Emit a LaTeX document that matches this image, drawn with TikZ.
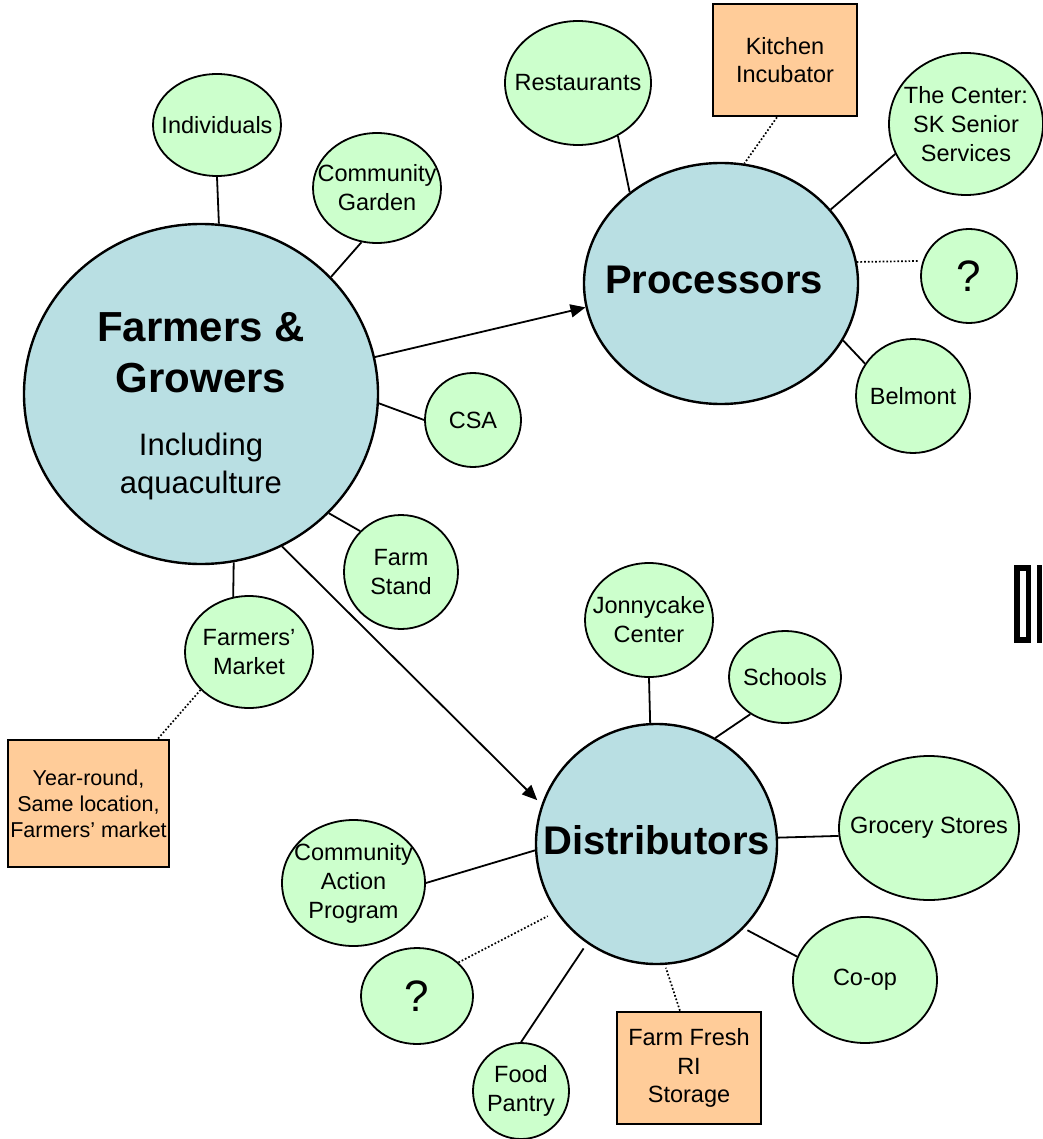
\documentclass[tikz,border=0pt]{standalone}
\usepackage{fontspec}
\setmainfont{Liberation Sans}
\usepackage{tikz}
\usetikzlibrary{shapes,arrows,arrows.meta}
\usepackage{color}

\definecolor{hubblue}{HTML}{B9DFE3}
\definecolor{leafgreen}{HTML}{CCFFCC}
\definecolor{boxorange}{HTML}{FFCC99}

\begin{document}
\begin{tikzpicture}[x=1pt, y=-1pt,
    hub/.style={ellipse, draw, line width=2.4pt, fill=hubblue, inner sep=-40pt,
      font=\bfseries\fontsize{40}{48}\selectfont},
    leaf/.style={ellipse, draw, line width=1.8pt, fill=leafgreen, inner sep=-20pt,
      align=center, font=\fontsize{23.5}{29}\selectfont},
    note/.style={rectangle, draw, line width=2.6pt, fill=boxorange, inner sep=0pt,
      align=center, font=\fontsize{23.5}{28.5}\selectfont},
    link/.style={line width=1.8pt},
    maybe/.style={line width=1.7pt, dotted},
    flow/.style={line width=1.8pt, -{Triangle[length=15pt, width=13pt]}}]
    \useasboundingbox (0,0) rectangle (1042,1139);

    % hubs
    \node[hub, minimum width=354pt, minimum height=340pt] (fg) at (201,394) {};
    \node[hub, minimum width=274pt, minimum height=241pt] (proc) at (721,283.5)
      {Processors\hspace*{14pt}\rule[-7pt]{0pt}{0pt}};
    \node[hub, minimum width=241pt, minimum height=240pt] (dist) at (656.5,844)
      {Distributors\rule[-8pt]{0pt}{0pt}};

    % around the farmers
    \node[leaf, minimum width=128pt, minimum height=102pt] (ind) at (217,125) {Individuals};
    \node[leaf, minimum width=128pt, minimum height=110pt] (cg) at (377,188) {Community\\Garden};
    \node[leaf, minimum width=96pt, minimum height=94pt] (csa) at (473,420) {CSA};
    \node[leaf, minimum width=114pt, minimum height=114pt] (fs) at (401,572) {Farm\\Stand};
    \node[leaf, minimum width=128pt, minimum height=112pt] (fm) at (249,652) {Farmers’\\Market};
    \node[note, font=\fontsize{21.5}{26}\selectfont, minimum width=161pt, minimum height=127pt]
      (yr) at (88.5,803.5) {Year-round,\\Same location,\\Farmers’ market};

    % around the processors
    \node[leaf, minimum width=146pt, minimum height=124pt] (rest) at (578,83) {Restaurants};
    \node[note, minimum width=144pt, minimum height=112pt] (kit) at (785,60) {Kitchen\\Incubator};
    \node[leaf, minimum width=154pt, minimum height=142pt] (ctr) at (966,124) {The Center:\\SK Senior\\Services};
    \node[leaf, font=\fontsize{44}{50}\selectfont, minimum width=96pt, minimum height=94pt]
      (procq) at (969,276) {?};
    \node[leaf, minimum width=114pt, minimum height=114pt] (bel) at (913,396) {Belmont};

    % around the distributors
    \node[leaf, minimum width=128pt, minimum height=114pt] (jc) at (649,620) {Jonnycake\\Center};
    \node[leaf, minimum width=112pt, minimum height=92pt] (sch) at (785,677) {Schools};
    \node[leaf, minimum width=180pt, minimum height=144pt] (gro) at (929,828) {Grocery Stores};
    \node[leaf, minimum width=144pt, minimum height=126pt] (coop) at (865,980) {Co-op};
    \node[leaf, minimum width=143pt, minimum height=126pt] (cap) at (353.5,883) {Community\\Action\\Program};
    \node[leaf, font=\fontsize{44}{50}\selectfont, minimum width=112pt, minimum height=96pt]
      (distq) at (417,996) {?};
    \node[leaf, minimum width=96pt, minimum height=96pt] (fp) at (521,1091) {Food\\Pantry};
    \node[note, minimum width=144pt, minimum height=112pt] (ff) at (689,1068) {Farm Fresh\\RI\\Storage};

    % labels
    \node[align=center, font=\bfseries\fontsize{42}{51}\selectfont] (fgtitle) at (201,353) {Farmers \&\\Growers};
    \node[align=center, font=\fontsize{31}{38}\selectfont] (fgsub) at (201,466) {Including\\aquaculture};

    % draw diagram
    \draw[link] (ind.south) -- (fg.84.5);
    \draw[link] (cg.254.7) -- (fg.42.9);
    \draw[link] (csa.west) -- (fg.-3.6);
    \draw[link] (fs.135.7) -- (fg.-43.6);
    \draw[link] (fm.106.2) -- (fg.-79.2);
    \draw[maybe] (fm.218.4) -- (yr.43.7);
    \draw[flow] (fg.12.2) -- (proc.190.2);
    \draw[flow, shorten >=6pt] (fg.-62.7) -- (dist.161);

    \draw[link] (rest.-53.5) -- (proc.135.2);
    \draw[maybe] (kit.262) -- (proc.79.5);
    \draw[link] (ctr.203.6) -- (proc.34.5);
    \draw[maybe, shorten <=5pt] (procq.162.6) -- (proc.9.9);
    \draw[link] (bel.146.6) -- (proc.-25);

    \draw[link] (jc.south) -- (dist.93.6);
    \draw[link] (sch.227.4) -- (dist.61.1);
    \draw[link] (gro.185) -- (dist.3.8);
    \draw[link, shorten >=4pt] (coop.161.8) -- (dist.-44.8);
    \draw[link] (cap.east) -- (dist.183.8);
    \draw[maybe, shorten >=9pt] (distq.39.1) -- (dist.214.4);
    \draw[link, shorten >=6pt] (fp.north) -- (dist.235.5);
    \draw[maybe, shorten >=3pt] (ff.99.1) -- (dist.-86);

    % cut-off mark at the right edge
    \fill (1014,565) rectangle (1031,643);
    \fill[white] (1020,571) rectangle (1026,637);
    \fill (1037,565) rectangle (1042,643);
\end{tikzpicture}
\end{document}
